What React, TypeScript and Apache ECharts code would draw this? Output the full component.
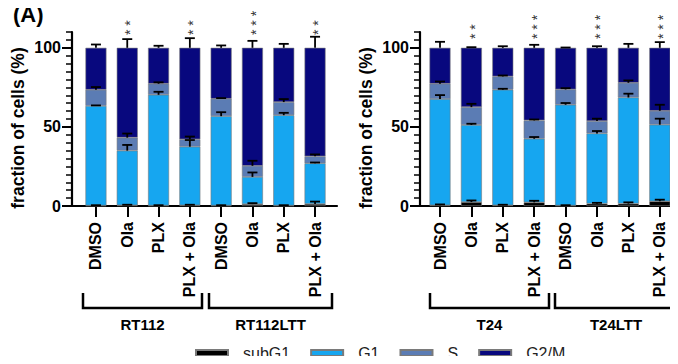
import React, { useEffect, useRef } from "react";
import * as echarts from "echarts";

// ---------- data ----------
const categories = ["DMSO", "Ola", "PLX", "PLX + Ola", "DMSO", "Ola", "PLX", "PLX + Ola"];
const seriesNames = ["subG1", "G1", "S", "G2/M"];
const groupsLeft = ["RT112", "RT112LTT"];
const groupsRight = ["T24", "T24LTT"];
const yTicks = [0, 50, 100];

// left panel (RT112 / RT112LTT)
const subG1L = [0.3, 0.5, 0.3, 0.5, 0.3, 1.2, 0.3, 1.3];
const g1L = [63.0, 34.5, 70.0, 37.0, 56.5, 17.2, 57.1, 25.7];
const sL = [10.2, 8.2, 7.0, 4.7, 11.0, 7.0, 8.3, 4.4];
const g2mL = [26.5, 56.8, 22.7, 57.8, 32.2, 74.6, 34.3, 68.6];
const subG1ErrL = [0.2, 0.3, 0.2, 0.3, 0.2, 0.6, 0.2, 1.5];
const g1ErrL = [0.3, 3.6, 1.9, 4.2, 2.5, 2.8, 1.5, 0.5];
const sErrL = [1.7, 2.6, 0.9, 1.7, 0.4, 3.2, 1.9, 1.2];
const g2mErrL = [2.1, 5.5, 1.3, 6.1, 1.5, 4.4, 2.5, 7.0];
const starsL = [0, 2, 0, 2, 0, 3, 0, 2];

// right panel (T24 / T24LTT)
const subG1R = [0.5, 2.5, 0.5, 2.3, 0.3, 1.5, 1.5, 3.0];
const g1R = [67.1, 48.7, 73.0, 40.2, 63.7, 44.4, 67.1, 48.4];
const sR = [9.7, 11.3, 8.4, 11.6, 9.7, 7.8, 9.3, 8.8];
const g2mR = [22.7, 37.5, 18.1, 45.9, 26.3, 46.3, 22.1, 39.8];
const subG1ErrR = [0.5, 1.0, 0.3, 1.0, 0.2, 0.5, 0.8, 1.0];
const g1ErrR = [2.5, 0.8, 0.6, 1.1, 1.1, 1.5, 2.4, 3.8];
const sErrR = [1.4, 2.1, 0.6, 0.6, 0.8, 1.5, 1.5, 3.8];
const g2mErrR = [3.8, 0.4, 1.0, 1.9, 0.2, 1.0, 2.5, 3.6];
const starsR = [0, 2, 0, 3, 0, 3, 0, 3];

// ---------- styles ----------
const colors = ["#000000", "#16a6f0", "#5b7cb4", "#08087e"];
const FONT = "'Liberation Sans', Arial, sans-serif";

function errData(parts: number[][], errs: number[][]) {
  const out: number[][] = [];
  for (let i = 0; i < parts[0].length; i++) {
    let top = 0;
    for (let k = 0; k < parts.length; k++) {
      top += parts[k][i];
      out.push([i, top, top + errs[k][i]]);
    }
  }
  return out;
}

export default function App() {
  const ref = useRef<HTMLDivElement>(null);
  useEffect(() => {
    if (!ref.current) return;
    const chart = echarts.init(ref.current, null, { renderer: "svg" });

    const TOP = 32;
    const HGT = 174;
    const panels = [
      {
        outerLeft: 72, outerWidth: 265, innerLeft: 80.3, innerWidth: 250.4,
        parts: [subG1L, g1L, sL, g2mL], errs: [subG1ErrL, g1ErrL, sErrL, g2mErrL],
        stars: starsL, starBase: 110, groups: groupsLeft,
        brackets: [[83, 202], [209, 332]], titleX: 18,
      },
      {
        outerLeft: 420, outerWidth: 258, innerLeft: 424.3, innerWidth: 251.2,
        parts: [subG1R, g1R, sR, g2mR], errs: [subG1ErrR, g1ErrR, sErrR, g2mErrR],
        stars: starsR, starBase: 107, groups: groupsRight,
        brackets: [[430, 549], [555, 677]], titleX: 366,
      },
    ];

    const grid: any[] = [];
    const xAxis: any[] = [];
    const yAxis: any[] = [];
    const series: any[] = [];
    const graphic: any[] = [];

    panels.forEach((p, pi) => {
      const gOuter = pi * 2;
      const gInner = pi * 2 + 1;
      grid.push({ left: p.outerLeft, top: TOP, width: p.outerWidth, height: HGT });
      grid.push({ left: p.innerLeft, top: TOP, width: p.innerWidth, height: HGT });

      // x axes
      xAxis.push({
        type: "value", gridIndex: gOuter, min: 0, max: 1,
        axisLine: { show: true, onZero: false, lineStyle: { color: "#000", width: 2.2 } },
        axisTick: { show: false }, axisLabel: { show: false }, splitLine: { show: false },
      });
      const xCat = xAxis.length;
      xAxis.push({
        type: "category", gridIndex: gInner, data: categories,
        axisLine: { show: false },
        axisTick: { show: true, alignWithLabel: true, length: 11, lineStyle: { color: "#000", width: 2 } },
        axisLabel: {
          rotate: 90, margin: 16, fontSize: 16, fontWeight: "bold", color: "#000",
          fontFamily: FONT, interval: 0,
        },
      });

      // y axes
      yAxis.push({
        type: "value", gridIndex: gOuter, position: "left", min: 0, max: 110, interval: 5,
        axisLine: { show: true, onZero: false, lineStyle: { color: "#000", width: 2.2 } },
        axisTick: { show: true, length: 6, lineStyle: { color: "#000", width: 1.5 } },
        axisLabel: { show: false }, splitLine: { show: false },
      });
      yAxis.push({
        type: "value", gridIndex: gOuter, position: "left", min: 0, max: 110, interval: 50,
        axisLine: { show: false },
        axisTick: { show: true, length: 10, customValues: yTicks, lineStyle: { color: "#000", width: 2 } },
        axisLabel: {
          customValues: yTicks, margin: 11, fontSize: 16, fontWeight: "bold", color: "#000",
          fontFamily: FONT, formatter: (v: number) => (yTicks.indexOf(v) >= 0 ? String(v) : ""),
        },
        splitLine: { show: false },
      });
      const yHidden = yAxis.length;
      yAxis.push({ type: "value", gridIndex: gInner, min: 0, max: 110, show: false, splitLine: { show: false } });

      // bars
      p.parts.forEach((vals, k) => {
        series.push({
          type: "bar", name: seriesNames[k], xAxisIndex: xCat, yAxisIndex: yHidden,
          stack: "p" + pi, barWidth: 21, data: vals,
          itemStyle: { color: colors[k], borderColor: "#7a7a7a", borderWidth: 0.6 },
          emphasis: { disabled: true },
        });
      });

      // error bars
      series.push({
        type: "custom", xAxisIndex: xCat, yAxisIndex: yHidden, z: 5,
        itemStyle: { color: "#000" },
        data: errData(p.parts, p.errs),
        encode: { x: 0, y: [1, 2] },
        renderItem: (params: any, api: any) => {
          const x = api.value(0);
          const a = api.coord([x, api.value(1)]);
          const b = api.coord([x, api.value(2)]);
          const hw = 5;
          return {
            type: "group",
            children: [
              { type: "line", shape: { x1: a[0], y1: a[1], x2: b[0], y2: b[1] }, style: { stroke: "#000", lineWidth: 1.8 } },
              { type: "line", shape: { x1: b[0] - hw, y1: b[1], x2: b[0] + hw, y2: b[1] }, style: { stroke: "#000", lineWidth: 1.8 } },
            ],
          };
        },
      });

      // significance stars: one vertical text per bar
      const base = p.starBase;
      series.push({
        type: "custom", xAxisIndex: xCat, yAxisIndex: yHidden, z: 6, clip: false,
        itemStyle: { color: "#333" },
        data: p.stars.map((c, i) => [i, c]),
        encode: { x: 0 },
        renderItem: (params: any, api: any) => {
          const x = api.value(0);
          const n = api.value(1);
          if (!n) return { type: "group", children: [] };
          const c = api.coord([x, base]);
          const txt = new Array(n).fill("*").join(" ");
          return {
            type: "text",
            x: Math.round(c[0] + 3.2),
            y: Math.round(c[1] + 2.7),
            rotation: Math.PI / 2,
            style: {
              legacy: false,
              text: txt, align: "left", verticalAlign: "middle",
              fontSize: 14, fill: "#333", textFill: "#333", fontFamily: FONT,
            },
          };
        },
      });

      // y title
      graphic.push({
        type: "text", x: p.titleX, y: 128, rotation: Math.PI / 2,
        style: {
          text: "fraction of cells (%)", align: "center", verticalAlign: "middle",
          fontSize: 17.5, fontWeight: "bold", fill: "#000", fontFamily: FONT,
        },
      });

      // group brackets + labels
      p.brackets.forEach((br, gi) => {
        graphic.push({
          type: "polyline",
          shape: { points: [[br[0], 293], [br[0], 308], [br[1], 308], [br[1], 293]] },
          style: { stroke: "#000", lineWidth: 2.5, fill: null },
        });
        graphic.push({
          type: "text", x: (br[0] + br[1]) / 2, y: 324,
          style: {
            text: p.groups[gi], align: "center", verticalAlign: "middle",
            fontSize: 15, fontWeight: "bold", fill: "#000", fontFamily: FONT,
          },
        });
      });
    });

    graphic.push({
      type: "text", x: 13, y: 14,
      style: { text: "(A)", align: "left", verticalAlign: "middle", fontSize: 22, fontWeight: "bold", fill: "#000", fontFamily: FONT },
    });

    chart.setOption({
      animation: false,
      grid,
      xAxis,
      yAxis,
      series,
      graphic,
      legend: {
        data: seriesNames, left: 195, top: 345, padding: 0, icon: "rect",
        itemWidth: 32, itemHeight: 6, itemGap: 20, selectedMode: false,
        textStyle: { fontSize: 16, color: "#222", fontFamily: FONT, padding: [0, 0, 0, 10] },
      },
    });
    return () => chart.dispose();
  }, []);
  return <div ref={ref} style={{ width: 678, height: 364, margin: -8 }} />;
}
